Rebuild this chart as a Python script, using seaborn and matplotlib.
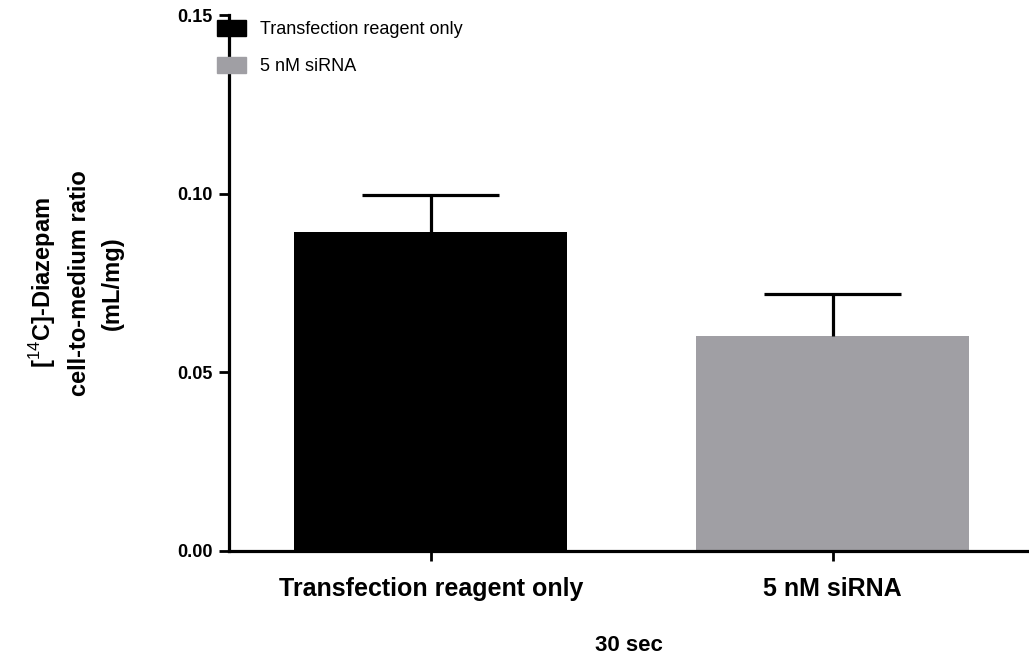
import numpy as np
import pandas as pd
from matplotlib import pyplot as plt
import seaborn as sns

# values
groups = ['Transfection reagent only', '5 nM siRNA']
means = [0.0893, 0.0603]
sems = [0.0102, 0.0115]
colors = ['#000000', '#A09FA4']

sns.set_style('ticks', {'axes.edgecolor': 'black', 'text.color': 'black',
                        'xtick.color': 'black', 'ytick.color': 'black',
                        'axes.labelcolor': 'black'})
plt.rcParams['font.family'] = ['Liberation Sans', 'DejaVu Sans']
plt.rcParams['mathtext.fontset'] = 'custom'
plt.rcParams['mathtext.rm'] = 'Liberation Sans'
plt.rcParams['mathtext.bf'] = 'Liberation Sans:bold'

df = pd.DataFrame({'group': groups, 'mean': means, 'sem': sems})

fig = plt.figure(figsize=(10.29, 6.62), dpi=100)
ax = fig.add_axes([0.2225, 0.1677, 0.7775, 0.8096])

sns.barplot(data=df, x='group', y='mean', hue='group', palette=colors,
            width=0.68, saturation=1, dodge=False, legend=False, ax=ax,
            edgecolor='none')

# upper error bars only
xs = np.arange(len(groups))
cap = 0.17
ax.vlines(xs, df['mean'], df['mean'] + df['sem'], color='black', lw=2.3, zorder=3)
ax.hlines(df['mean'] + df['sem'], xs - cap, xs + cap, color='black', lw=2.3, zorder=3)

ax.set_xlim(-0.502, 1.488)
ax.set_ylim(0, 0.15)
ax.set_yticks([0.0, 0.05, 0.10, 0.15])
ax.set_yticklabels(['0.00', '0.05', '0.10', '0.15'])
sns.despine(ax=ax)
for s in ['left', 'bottom']:
    ax.spines[s].set_linewidth(2.3)
ax.tick_params(axis='both', width=2.0, length=7, color='black')
ax.tick_params(axis='y', labelsize=13, pad=5)
ax.tick_params(axis='x', labelsize=18, pad=12)
for lab in ax.get_yticklabels() + ax.get_xticklabels():
    lab.set_fontweight('bold')

ax.set_xlabel('30 sec', fontsize=16, fontweight='bold', labelpad=24)
ax.set_ylabel('[$^{\\mathrm{14}}$C]-Diazepam\ncell-to-medium ratio\n(mL/mg)',
              fontsize=17, fontweight='bold', labelpad=38, linespacing=1.55)

handles = [plt.Rectangle((0, 0), 1, 1, color=c) for c in colors]
fig.legend(handles, groups, loc='upper left', bbox_to_anchor=(0.195, 0.995),
           frameon=False, fontsize=13, handlelength=1.6, handleheight=1.0,
           labelspacing=1.05, handletextpad=0.8)

fig.savefig('out.png', dpi=100)
